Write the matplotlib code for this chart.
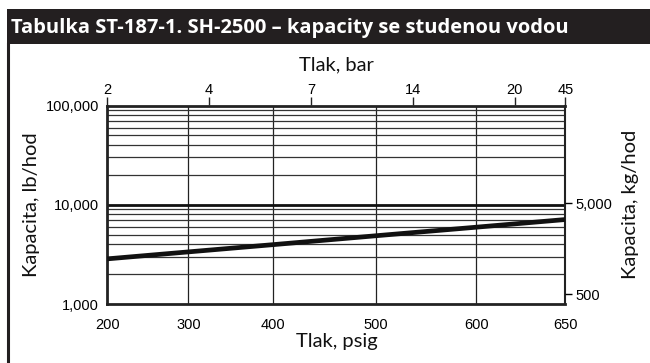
import numpy as np
import matplotlib
matplotlib.use("Agg")
import matplotlib.pyplot as plt
from matplotlib.patches import Rectangle
from matplotlib.lines import Line2D
from matplotlib.ticker import FixedLocator, NullLocator

# ---- data ----
psig_ticks = [200, 300, 400, 500, 600, 650]
bar_labels = ["2", "4", "7", "14", "20", "45"]
line_psig = [200, 300, 400, 500, 600, 650]
line_lbhr = [2850, 3350, 3960, 4870, 5940, 7100]
lb_ticks = [1000, 10000, 100000]
lb_labels = ["1,000", "10,000", "100,000"]
kg_labels = ["5,000", "500"]
kg_tick_lb = [10400, 1260]   # where the kg/hod ticks sit on the lb/hod scale

title = "Tabulka ST-187-1. SH-2500 – kapacity se studenou vodou"

# chart's (non-uniform) pressure axis: relative position of each psig gridline
axis_frac = np.array([0.0, 0.177, 0.361, 0.586, 0.805, 1.0])
pt = np.array(psig_ticks, dtype=float)

def fwd(x):
    return np.interp(x, pt, axis_frac)

def inv(p):
    return np.interp(p, axis_frac, pt)

W, H = 650, 363
fig = plt.figure(figsize=(W / 100, H / 100), dpi=100)
fig.patch.set_facecolor("white")

tick_font = "Liberation Sans"
lab_font = "Lato"

# title bar
fig.patches.append(Rectangle((7 / W, 1 - 44 / H), 1 - 7 / W, 35 / H,
                             transform=fig.transFigure, facecolor="#231f20",
                             edgecolor="none", zorder=0))
fig.text(11 / W, 1 - 28 / H, title, color="white", fontsize=14.5,
         fontweight="bold", family="Open Sans", va="center", ha="left")
# left frame line
fig.lines.append(Line2D([8.2 / W, 8.2 / W], [0, 1 - 44 / H], transform=fig.transFigure,
                        color="#231f20", lw=2.2))

ax = fig.add_axes([107.3 / W, 1 - 304 / H, (565.5 - 107.3) / W, (304 - 105.5) / H])
ax.set_xscale("function", functions=(fwd, inv))
ax.set_yscale("log")
ax.set_xlim(200, 650)
ax.set_ylim(1000, 100000)

# grid
for xv in psig_ticks[1:-1]:
    ax.axvline(xv, color="#222222", lw=0.9, zorder=1)
for dec in [1000, 10000]:
    for m in range(2, 10):
        ax.axhline(dec * m, color="#333333", lw=0.9, zorder=1)
ax.axhline(10000, color="#111111", lw=2.0, zorder=2)

ax.plot(line_psig, line_lbhr, color="#111111", lw=3.4, zorder=3, solid_capstyle="butt")

for s in ["left", "bottom", "top"]:
    ax.spines[s].set_linewidth(2.0)
    ax.spines[s].set_color("#222222")
ax.spines["right"].set_linewidth(1.5)
ax.spines["right"].set_color("#222222")

ax.xaxis.set_major_locator(FixedLocator(psig_ticks))
ax.set_xticklabels([str(v) for v in psig_ticks], family=tick_font, fontsize=10.5)
ax.xaxis.set_minor_locator(NullLocator())
ax.tick_params(axis="x", length=0, pad=10)
ax.yaxis.set_major_locator(FixedLocator(lb_ticks))
ax.set_yticklabels(lb_labels, family=tick_font, fontsize=10.5)
ax.yaxis.set_minor_locator(NullLocator())
ax.tick_params(axis="y", length=0, pad=6)

lab_kw = dict(family=lab_font, fontsize=14.5, fontweight="normal", color="#111111")
ax.set_xlabel("Tlak, psig", labelpad=1, **lab_kw)
ax.set_ylabel("Kapacita, lb/hod", labelpad=4, **lab_kw)

# top bar axis
axt = ax.secondary_xaxis("top")
axt.xaxis.set_major_locator(FixedLocator(psig_ticks))
axt.set_xticklabels(bar_labels, family=tick_font, fontsize=10.5)
axt.tick_params(length=6, width=1.0, pad=0, colors="#222222")
for lab in axt.get_xticklabels():
    lab.set_color("black")
axt.spines["top"].set_visible(False)
axt.set_xlabel("Tlak, bar", labelpad=9, **lab_kw)

# right kg axis
axr = ax.twinx()
axr.set_yscale("log")
axr.set_ylim(1000, 100000)
axr.yaxis.set_major_locator(FixedLocator(kg_tick_lb))
axr.set_yticklabels(kg_labels, family=tick_font, fontsize=10.5)
axr.yaxis.set_minor_locator(NullLocator())
axr.tick_params(axis="y", length=5, width=1.0, pad=2)
for s in axr.spines.values():
    s.set_visible(False)
axr.set_ylabel("Kapacita, kg/hod", labelpad=7, **lab_kw)

fig.savefig("out.png", dpi=100)
